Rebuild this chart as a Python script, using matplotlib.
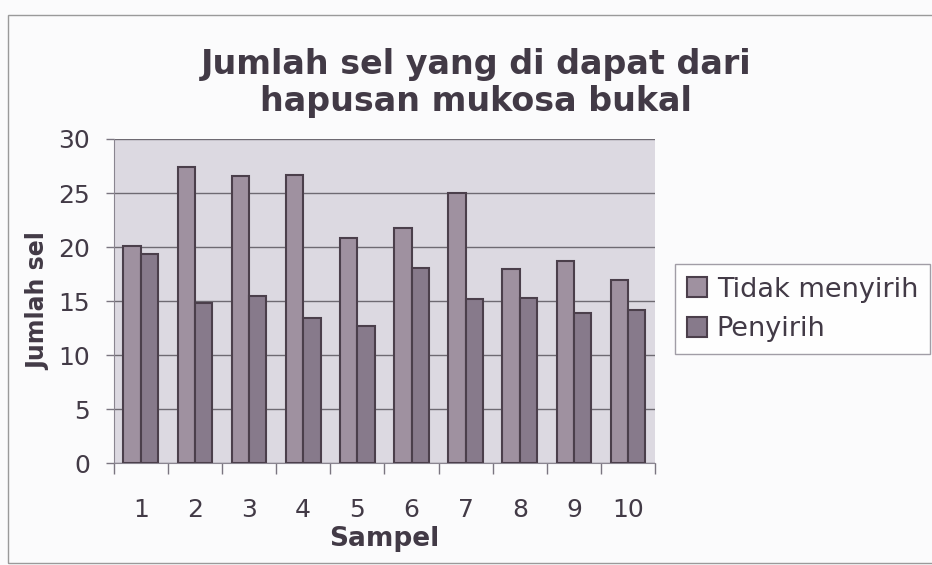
import numpy as np
import matplotlib
matplotlib.use('Agg')
import matplotlib.pyplot as plt
from matplotlib.patches import Rectangle

sampel = ['1', '2', '3', '4', '5', '6', '7', '8', '9', '10']
tidak_menyirih = [20.1, 27.4, 26.6, 26.7, 20.8, 21.8, 25.0, 18.0, 18.7, 17.0]
penyirih = [19.4, 14.8, 15.5, 13.4, 12.7, 18.1, 15.2, 15.3, 13.9, 14.2]
yticks = [0, 5, 10, 15, 20, 25, 30]

plt.rcParams['font.family'] = ['DejaVu Sans']
txt_col = '#423a46'

fig = plt.figure(figsize=(9.32, 5.65), dpi=100)
fig.patch.set_facecolor('#fbfbfc')
# frame round the whole chart like the scan
fig.add_artist(Rectangle((0.009, 0.004), 1.2, 0.97, transform=fig.transFigure,
                         fill=False, edgecolor='#9a9a9a', linewidth=1.0))

ax = fig.add_axes([0.122, 0.18, 0.581, 0.574])
ax.set_facecolor('#dcd9e1')

x = np.arange(len(sampel))
w = 0.32
ax.bar(x - w/2, tidak_menyirih, w, color='#9f91a0', edgecolor='#4b3f4b',
       linewidth=1.5, label='Tidak menyirih', zorder=3)
ax.bar(x + w/2, penyirih, w, color='#877a8b', edgecolor='#4b3f4b',
       linewidth=1.5, label='Penyirih', zorder=3)

ax.set_xlim(-0.5, len(sampel) - 0.5)
ax.set_ylim(0, 30)
ax.set_yticks(yticks)
ax.yaxis.grid(True, color='#6e6a72', linewidth=1.0, zorder=1)
ax.set_axisbelow(True)

# category labels, ticks sit between the categories
ax.set_xticks(x)
ax.set_xticklabels(sampel)
ax.set_xticks(np.arange(len(sampel) + 1) - 0.5, minor=True)
ax.tick_params(axis='x', which='major', length=0, pad=25, labelsize=18, colors=txt_col)
ax.tick_params(axis='x', which='minor', length=8, width=1, color='#7a7580', direction='out')
ax.tick_params(axis='y', length=6, width=1, color='#7a7580', labelsize=18, labelcolor=txt_col, pad=11)

for s in ['top', 'right']:
    ax.spines[s].set_visible(False)
ax.spines['left'].set_color('#8a8590')
ax.spines['bottom'].set_color('#8a8590')

ax.set_ylabel('Jumlah sel', fontsize=17, fontweight='bold', color=txt_col, labelpad=6)
ax.set_xlabel('Sampel', fontsize=19, fontweight='bold', color=txt_col, labelpad=3)

fig.text(0.511, 0.853, 'Jumlah sel yang di dapat dari\nhapusan mukosa bukal',
         ha='center', va='center', fontsize=24, fontweight='bold', color=txt_col,
         linespacing=1.18)

leg = fig.legend(loc='upper left', bbox_to_anchor=(0.724, 0.532), fontsize=19.5,
                 frameon=True, fancybox=False, edgecolor='#8a8590',
                 handlelength=0.75, handleheight=0.75, handletextpad=0.35,
                 labelspacing=0.5, borderpad=0.45, borderaxespad=0)
leg.get_frame().set_linewidth(1.0)
for t in leg.get_texts():
    t.set_color(txt_col)

fig.savefig('out.png', dpi=100, facecolor=fig.get_facecolor())
